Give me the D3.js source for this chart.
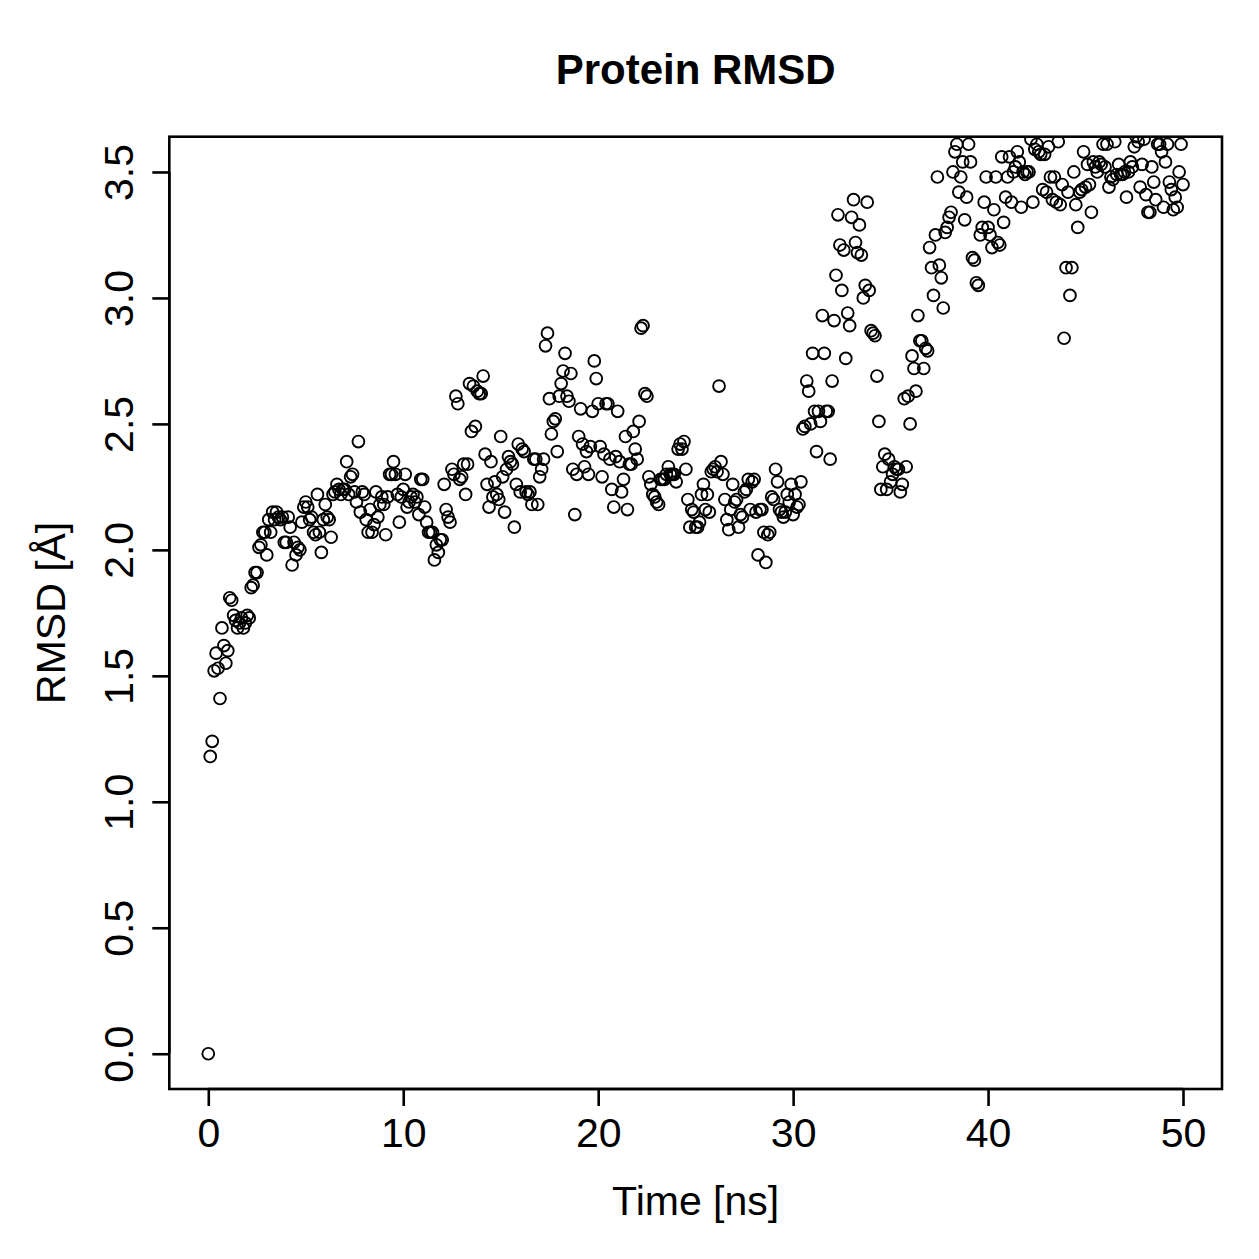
<!DOCTYPE html>
<html>
<head>
<meta charset="utf-8">
<script src="https://cdn.jsdelivr.net/npm/d3@7"></script>
<style>
  body { margin: 0; background: #fff; }
  text { font-family: "Liberation Sans", Arial, sans-serif; fill: #000; }
</style>
</head>
<body>
<svg id="chart" width="1259" height="1259"></svg>
<script>
// RMSD samples, one every 0.1 ns from 0 to 50 ns (rows of 1 ns)
const rmsd = [
  0.00,1.18,1.24,1.52,1.59,1.53,1.41,1.69,1.62,1.55,
  1.60,1.81,1.80,1.74,1.72,1.69,1.71,1.73,1.69,1.71,
  1.74,1.73,1.85,1.86,1.91,1.91,2.01,2.02,2.07,2.07,
  1.98,2.12,2.07,2.15,2.12,2.15,2.13,2.12,2.13,2.03,
  2.03,2.13,2.09,1.94,2.03,1.98,2.01,2.00,2.11,2.17,
  2.19,2.17,2.12,2.13,2.07,2.06,2.22,2.07,1.99,2.12,
  2.18,2.13,2.12,2.05,2.22,2.23,2.26,2.24,2.22,2.24,
  2.24,2.35,2.22,2.29,2.30,2.23,2.19,2.43,2.15,2.23,
  2.22,2.12,2.07,2.16,2.07,2.10,2.23,2.13,2.18,2.21,
  2.18,2.06,2.21,2.30,2.30,2.35,2.30,2.22,2.11,2.21,
  2.24,2.30,2.17,2.19,2.21,2.22,2.19,2.21,2.14,2.28,
  2.28,2.17,2.11,2.07,2.07,2.07,1.96,2.02,1.99,2.04,
  2.04,2.26,2.16,2.13,2.11,2.32,2.30,2.61,2.58,2.28,
  2.29,2.34,2.22,2.34,2.66,2.47,2.65,2.49,2.63,2.62,
  2.62,2.69,2.38,2.26,2.17,2.35,2.21,2.27,2.22,2.20,
  2.45,2.29,2.15,2.32,2.37,2.35,2.34,2.09,2.26,2.42,
  2.23,2.40,2.39,2.23,2.22,2.23,2.18,2.36,2.36,2.18,
  2.29,2.32,2.36,2.81,2.86,2.60,2.46,2.51,2.52,2.39,
  2.61,2.66,2.71,2.78,2.61,2.59,2.70,2.32,2.14,2.30,
  2.45,2.56,2.42,2.33,2.39,2.30,2.41,2.55,2.75,2.68,
  2.58,2.41,2.29,2.38,2.58,2.58,2.36,2.24,2.17,2.37,
  2.55,2.35,2.23,2.28,2.45,2.16,2.34,2.34,2.47,2.40,
  2.36,2.51,2.88,2.89,2.62,2.61,2.29,2.26,2.22,2.21,
  2.19,2.18,2.28,2.28,2.28,2.30,2.33,2.30,2.30,2.30,
  2.27,2.40,2.42,2.40,2.43,2.32,2.20,2.09,2.16,2.15,
  2.09,2.09,2.11,2.22,2.26,2.16,2.22,2.15,2.31,2.32,
  2.33,2.31,2.65,2.35,2.30,2.20,2.12,2.08,2.16,2.26,
  2.19,2.20,2.09,2.14,2.13,2.23,2.24,2.28,2.16,2.27,
  2.28,2.15,1.98,2.16,2.16,2.07,1.95,2.06,2.07,2.21,
  2.20,2.32,2.27,2.16,2.15,2.13,2.15,2.22,2.19,2.26,
  2.14,2.22,2.17,2.18,2.27,2.48,2.49,2.67,2.63,2.50,
  2.78,2.55,2.39,2.55,2.51,2.93,2.78,2.55,2.55,2.36,
  2.67,2.91,3.09,3.33,3.21,3.03,3.19,2.76,2.94,2.89,
  3.32,3.39,3.22,3.18,3.29,3.17,3.00,3.05,3.38,3.03,
  2.87,2.86,2.85,2.69,2.51,2.24,2.33,2.38,2.24,2.36,
  2.27,2.30,2.33,2.32,2.32,2.23,2.26,2.60,2.33,2.61,
  2.50,2.77,2.72,2.63,2.93,2.83,2.83,2.72,2.80,2.79,
  3.20,3.12,3.01,3.25,3.48,3.13,3.08,2.96,3.26,3.28,
  3.32,3.34,3.50,3.58,3.61,3.42,3.48,3.54,3.31,3.40,
  3.61,3.54,3.16,3.15,3.06,3.05,3.25,3.28,3.38,3.48,
  3.28,3.25,3.20,3.35,3.48,3.22,3.21,3.56,3.30,3.40,
  3.48,3.56,3.38,3.50,3.52,3.58,3.54,3.36,3.50,3.49,
  3.50,3.50,3.63,3.38,3.59,3.61,3.58,3.57,3.43,3.57,
  3.42,3.60,3.48,3.39,3.48,3.38,3.62,3.37,3.45,2.84,
  3.12,3.42,3.01,3.12,3.50,3.37,3.28,3.42,3.43,3.58,
  3.44,3.53,3.45,3.34,3.54,3.52,3.50,3.54,3.53,3.61,
  3.52,3.61,3.44,3.48,3.47,3.62,3.49,3.53,3.49,3.49,
  3.50,3.40,3.50,3.54,3.52,3.60,3.64,3.62,3.44,3.53,
  3.63,3.41,3.34,3.34,3.52,3.46,3.39,3.61,3.61,3.58,
  3.36,3.54,3.61,3.46,3.43,3.35,3.40,3.36,3.50,3.61,
  3.45
];
const timeStep = 0.1; // ns between frames

const xTicks = [0, 10, 20, 30, 40, 50];
const yTicks = [0.0, 0.5, 1.0, 1.5, 2.0, 2.5, 3.0, 3.5];

const title = 'Protein RMSD';
const xTitle = 'Time [ns]';
const yTitle = 'RMSD [\u00C5]';

// plot box, R style (4% padding on the axes)
const box = { left: 169.3, right: 1222, top: 136.7, bottom: 1089 };
const labelSize = 41;

const svg = d3.select('#chart');

let x = d3.scaleLinear()
  .domain([-2, 52])
  .range([box.left, box.right]);

let y = d3.scaleLinear()
  .domain([-0.14, 3.64])
  .range([box.bottom, box.top]);

svg.append('defs').append('clipPath')
  .attr('id', 'plotClip')
  .append('rect')
  .attr('x', box.left)
  .attr('y', box.top)
  .attr('width', box.right - box.left)
  .attr('height', box.bottom - box.top);

// points
svg.append('g')
  .attr('clip-path', 'url(#plotClip)')
  .selectAll('circle')
  .data(rmsd)
  .join('circle')
  .attr('cx', (d, i) => x(i * timeStep))
  .attr('cy', d => y(d))
  .attr('r', 5.9)
  .attr('fill', 'none')
  .attr('stroke', '#000')
  .attr('stroke-width', 1.9);

// x axis
let xAxis = d3.axisBottom(x)
  .tickValues(xTicks)
  .tickSize(17)
  .tickPadding(29)
  .tickFormat(d3.format('d'));

let gx = svg.append('g')
  .attr('transform', `translate(0,${box.bottom})`)
  .call(xAxis);
gx.select('.domain')
  .attr('d', `M${x(xTicks[0])},0H${x(xTicks[xTicks.length - 1])}`);
gx.selectAll('.tick text')
  .attr('dy', '0.71em')
  .attr('y', 29);

// y axis
let yAxis = d3.axisLeft(y)
  .tickValues(yTicks)
  .tickSize(17)
  .tickFormat(d3.format('.1f'));

let gy = svg.append('g')
  .attr('transform', `translate(${box.left},0)`)
  .call(yAxis);
gy.select('.domain')
  .attr('d', `M0,${y(yTicks[0])}V${y(yTicks[yTicks.length - 1])}`);
gy.selectAll('.tick text')
  .attr('x', null)
  .attr('dy', null)
  .attr('text-anchor', 'middle')
  .attr('transform', 'translate(-36,0) rotate(-90)');

svg.selectAll('.domain, .tick line')
  .attr('stroke', '#000')
  .attr('stroke-width', 2.6);
svg.selectAll('.tick text')
  .attr('font-size', labelSize)
  .attr('font-family', '"Liberation Sans", Arial, sans-serif')
  .attr('fill', '#000');

// frame
svg.append('rect')
  .attr('x', box.left)
  .attr('y', box.top)
  .attr('width', box.right - box.left)
  .attr('height', box.bottom - box.top)
  .attr('fill', 'none')
  .attr('stroke', '#000')
  .attr('stroke-width', 2.6);

// titles
svg.append('text')
  .attr('x', (box.left + box.right) / 2)
  .attr('y', 84)
  .attr('text-anchor', 'middle')
  .attr('font-size', 42)
  .attr('font-weight', 'bold')
  .text(title);

svg.append('text')
  .attr('x', (box.left + box.right) / 2)
  .attr('y', 1215)
  .attr('text-anchor', 'middle')
  .attr('font-size', labelSize)
  .text(xTitle);

svg.append('text')
  .attr('transform', `translate(65,${(box.top + box.bottom) / 2}) rotate(-90)`)
  .attr('text-anchor', 'middle')
  .attr('font-size', labelSize)
  .text(yTitle);
</script>
</body>
</html>
